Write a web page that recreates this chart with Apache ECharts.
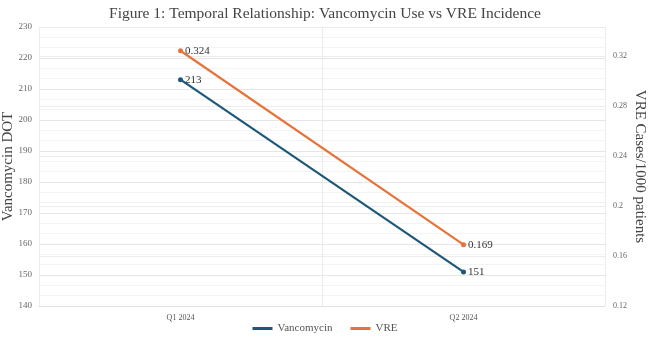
<!DOCTYPE html>
<html>
<head>
<meta charset="utf-8">
<script src="https://cdn.jsdelivr.net/npm/echarts@6/dist/echarts.min.js"></script>
<style>
    html, body { margin: 0; padding: 0; background: #fff; }
    #main { width: 650px; height: 342px; }
</style>
</head>
<body>
<div id="main"></div>
<script>
    // 数据
    const quarters = ['Q1 2024', 'Q2 2024'];
    const vancomycinDOT = [213, 151];
    const vreIncidence = [0.324, 0.169];

    const serif = '"Liberation Serif", "DejaVu Serif", serif';

    var myChart = echarts.init(document.getElementById('main'));
    let option = {
        title: {
            text: 'Figure 1: Temporal Relationship: Vancomycin Use vs VRE Incidence',
            left: 'center',
            top: 1,
            textStyle: { fontFamily: serif, fontWeight: 'normal', fontSize: 15.5, color: '#444' }
        },
        legend: {
            bottom: 3,
            left: 'center',
            itemWidth: 20,
            itemHeight: 3,
            itemGap: 18,
            icon: 'rect',
            textStyle: { fontFamily: serif, fontSize: 11, color: '#555' },
            data: ['Vancomycin', 'VRE']
        },
        grid: { left: 39, right: 45, top: 27, bottom: 36, outerBoundsMode: 'none', containLabel: false },
        xAxis: {
            type: 'category',
            data: quarters,
            boundaryGap: true,
            axisLine: { lineStyle: { color: '#e2e2e2' } },
            axisTick: { show: false },
            axisLabel: { fontFamily: serif, fontSize: 8, color: '#555', margin: 8 },
            splitLine: { show: true, interval: 0, lineStyle: { color: '#ececec' } }
        },
        yAxis: [
            {
                type: 'value',
                name: 'Vancomycin DOT',
                nameLocation: 'middle',
                nameGap: 23,
                nameRotate: 90,
                nameMoveOverlap: false,
                nameTextStyle: { fontFamily: serif, fontSize: 15, color: '#444' },
                min: 140,
                max: 230,
                interval: 10,
                axisLine: { show: false },
                axisTick: { show: false },
                axisLabel: { fontFamily: serif, fontSize: 9, color: '#666', margin: 7 },
                splitLine: { lineStyle: { color: '#e6e6e6' } },
                minorTick: { show: false, splitNumber: 3 },
                minorSplitLine: { show: true, lineStyle: { color: '#f3f3f3' } }
            },
            {
                type: 'value',
                name: 'VRE Cases/1000 patients',
                nameLocation: 'middle',
                nameGap: 27,
                nameRotate: 270,
                nameMoveOverlap: false,
                nameTextStyle: { fontFamily: serif, fontSize: 15, color: '#444' },
                min: 0.12,
                max: 0.343,
                interval: 0.04,
                axisLine: { show: false },
                axisTick: { show: false },
                axisLabel: {
                    fontFamily: serif, fontSize: 8, color: '#666', margin: 8,
                    showMaxLabel: false,
                    formatter: function (v) { return String(parseFloat(v.toFixed(2))); }
                },
                splitLine: { show: true, lineStyle: { color: '#ececec' } }
            }
        ],
        series: [
            {
                name: 'Vancomycin',
                type: 'line',
                yAxisIndex: 0,
                data: vancomycinDOT,
                color: '#1d5878',
                symbol: 'circle',
                symbolSize: 5,
                lineStyle: { width: 2.2 },
                label: {
                    show: true, position: 'right', distance: 2,
                    fontFamily: serif, fontSize: 11, color: '#333'
                }
            },
            {
                name: 'VRE',
                type: 'line',
                yAxisIndex: 1,
                data: vreIncidence,
                color: '#e6743a',
                symbol: 'circle',
                symbolSize: 5,
                lineStyle: { width: 2.2 },
                label: {
                    show: true, position: 'right', distance: 2,
                    fontFamily: serif, fontSize: 11, color: '#333'
                }
            }
        ]
    };
    myChart.setOption(option);
</script>
</body>
</html>
